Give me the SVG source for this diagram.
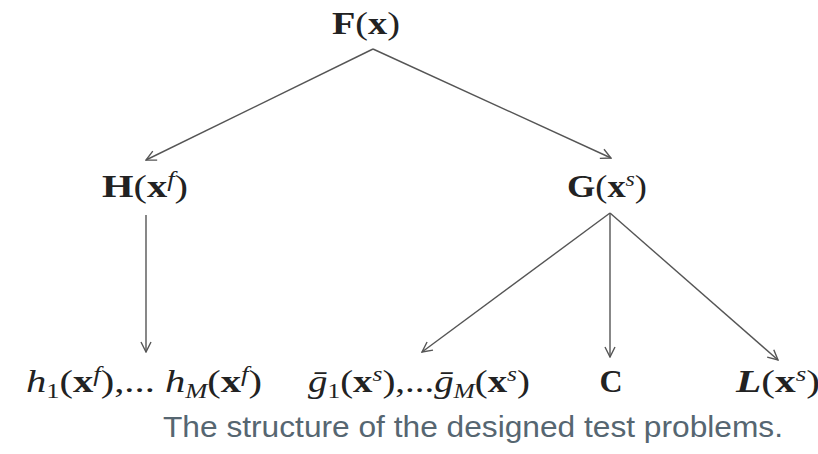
<svg xmlns="http://www.w3.org/2000/svg" width="818" height="454" viewBox="0 0 818 454">
<style>
.m{font-family:"Liberation Serif","DejaVu Serif",serif;font-size:32px;fill:#222}
.b{font-weight:bold}
.i{font-style:italic}
.s{font-size:21px}
.cap{font-family:"Liberation Sans",Arial,sans-serif;font-size:30px;fill:#566671}
.c{stroke:#555;stroke-width:1.4;fill:none}
</style>
<defs>
<marker id="a" viewBox="0 0 12 12" refX="11" refY="6" markerWidth="12" markerHeight="12" markerUnits="userSpaceOnUse" orient="auto">
<path d="M1,1 L11,6 L1,11" fill="none" stroke="#555" stroke-width="1.4"/>
</marker>
</defs>
<rect width="818" height="454" fill="#fff"/>
<g id="connectors">
<path class="c" d="M373,49 L146,160" marker-end="url(#a)"/>
<path class="c" d="M373,49 L611,158" marker-end="url(#a)"/>
<path class="c" d="M146,215 L146,352" marker-end="url(#a)"/>
<path class="c" d="M610,213 L422,352" marker-end="url(#a)"/>
<path class="c" d="M610,213 L610,357" marker-end="url(#a)"/>
<path class="c" d="M610,213 L778,360" marker-end="url(#a)"/>
</g>
<g id="F"><text class="m" x="332" y="34" textLength="68" lengthAdjust="spacingAndGlyphs"><tspan class="b">F</tspan>(<tspan class="b">x</tspan>)</text></g>
<g id="H"><text class="m" x="102" y="197" textLength="86" lengthAdjust="spacingAndGlyphs"><tspan class="b">H</tspan>(<tspan class="b">x</tspan><tspan class="i s" dy="-11">f</tspan><tspan dy="11">)</tspan></text></g>
<g id="G"><text class="m" x="567" y="197" textLength="80" lengthAdjust="spacingAndGlyphs"><tspan class="b">G</tspan>(<tspan class="b">x</tspan><tspan class="i s" dy="-11">s</tspan><tspan dy="11">)</tspan></text></g>
<g id="h"><text class="m" x="26" y="392" textLength="236" lengthAdjust="spacingAndGlyphs"><tspan class="i">h</tspan><tspan class="s" dy="6">1</tspan><tspan dy="-6">(</tspan><tspan class="b">x</tspan><tspan class="i s" dy="-11">f</tspan><tspan dy="11">),... </tspan><tspan class="i">h</tspan><tspan class="i s" dy="6">M</tspan><tspan dy="-6">(</tspan><tspan class="b">x</tspan><tspan class="i s" dy="-11">f</tspan><tspan dy="11">)</tspan></text></g>
<g id="g"><text class="m" x="308" y="392" textLength="222" lengthAdjust="spacingAndGlyphs"><tspan class="i">ḡ</tspan><tspan class="s" dy="6">1</tspan><tspan dy="-6">(</tspan><tspan class="b">x</tspan><tspan class="i s" dy="-11">s</tspan><tspan dy="11">),...</tspan><tspan class="i">ḡ</tspan><tspan class="i s" dy="6">M</tspan><tspan dy="-6">(</tspan><tspan class="b">x</tspan><tspan class="i s" dy="-11">s</tspan><tspan dy="11">)</tspan></text></g>
<g id="C"><text class="m b" x="611" y="392" text-anchor="middle" font-size="30">C</text></g>
<g id="L"><text class="m" x="736" y="392" textLength="84" lengthAdjust="spacingAndGlyphs"><tspan class="b i">L</tspan>(<tspan class="b">x</tspan><tspan class="i s" dy="-11">s</tspan><tspan dy="11">)</tspan></text></g>
<text class="cap" x="163" y="437" textLength="620" lengthAdjust="spacingAndGlyphs">The structure of the designed test problems.</text>
</svg>
